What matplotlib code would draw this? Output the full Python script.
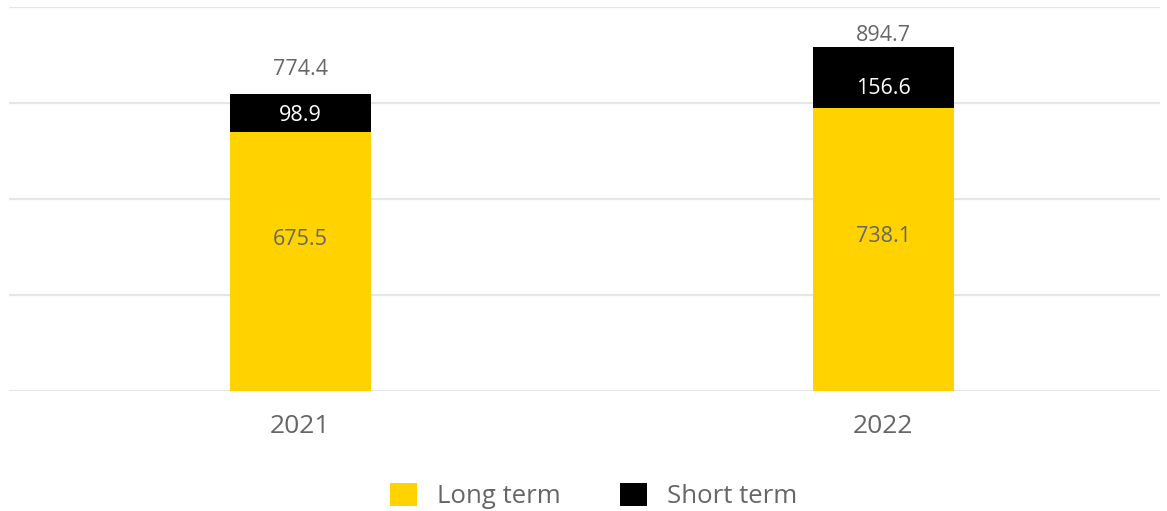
import matplotlib.pyplot as plt
import numpy as np

# data
years = ['2021', '2022']
long_term = [675.5, 738.1]
short_term = [98.9, 156.6]
totals = [774.4, 894.7]

yellow = '#FFD200'
grey_txt = '#666666'

plt.rcParams['font.family'] = ['Open Sans', 'DejaVu Sans']

fig = plt.figure(figsize=(11.67, 5.11), dpi=100)
ax = fig.add_axes([9/1167, 120/511, 1151/1167, 384/511])

x = np.arange(len(years))
w = 0.242
b1 = ax.bar(x, long_term, w, color=yellow, zorder=2, label='Long term')
b2 = ax.bar(x, short_term, w, bottom=long_term, color='black', zorder=2, label='Short term')

ax.set_xlim(-0.5, 1.475)
ax.set_ylim(0, 1000)
ax.set_yticks([0, 250, 500, 750, 1000])
ax.grid(axis='y', color='#e6e6e6', linewidth=1.6, zorder=0)
ax.tick_params(left=False, bottom=False, labelleft=False)
for s in ax.spines.values():
    s.set_visible(False)
ax.set_xticks(x)
ax.set_xticklabels(years, fontsize=19, color=grey_txt)
ax.tick_params(axis='x', pad=13)

# label nudges (pixels) to sit where the original puts them
long_pad = [22, 13]
short_pad = [-3, -11]
tot_pad = [24, 12]
for i in range(len(years)):
    ax.annotate(f'{long_term[i]:.1f}', (x[i], long_term[i] / 2), xytext=(0, long_pad[i]),
                textcoords='offset pixels', ha='center', va='center',
                fontsize=15.5, color=grey_txt, zorder=3)
    ax.annotate(f'{short_term[i]:.1f}', (x[i], long_term[i] + short_term[i] / 2),
                xytext=(0, short_pad[i]), textcoords='offset pixels', ha='center',
                va='center', fontsize=15.5, color='white', zorder=3)
    ax.annotate(f'{totals[i]:.1f}', (x[i], totals[i]), xytext=(0, tot_pad[i]),
                textcoords='offset pixels', ha='center', va='center', fontsize=15.5,
                color=grey_txt)

leg = fig.legend(handles=[b1, b2], loc='center', bbox_to_anchor=(594/1167, 15/511), ncol=2,
                 frameon=False, fontsize=18.5, handlelength=1.05, handleheight=1.05,
                 handletextpad=0.78, columnspacing=2.3)
for t in leg.get_texts():
    t.set_color(grey_txt)

fig.savefig('out.png', dpi=100)
